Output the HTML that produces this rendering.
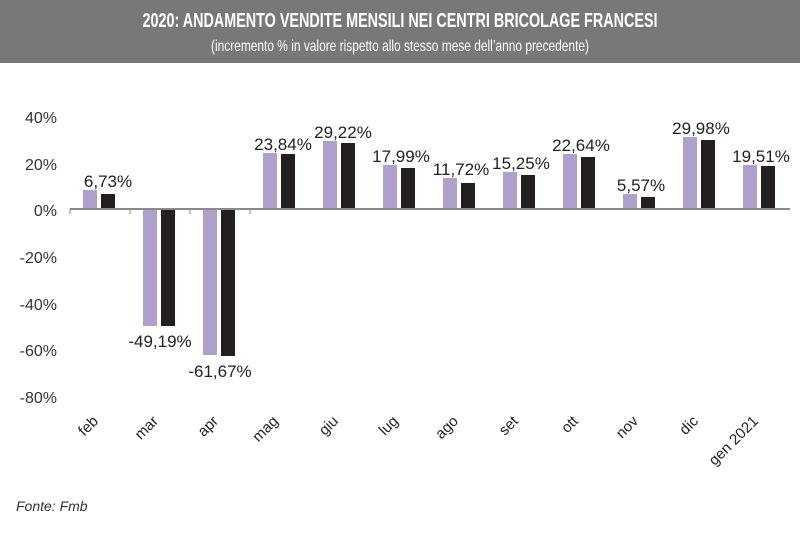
<!DOCTYPE html>
<html><head><meta charset="utf-8"><style>
body{margin:0;background:#fff;width:800px;height:530px;overflow:hidden;font-family:"Liberation Sans",sans-serif}
</style></head><body>
<svg width="800" height="530" xmlns="http://www.w3.org/2000/svg" font-family="Liberation Sans, sans-serif">
<rect x="0" y="0" width="800" height="63" fill="#787878"/>
<text x="400" y="27" text-anchor="middle" fill="#fff" font-size="20" font-weight="bold" textLength="515" lengthAdjust="spacingAndGlyphs">2020: ANDAMENTO VENDITE MENSILI NEI CENTRI BRICOLAGE FRANCESI</text>
<text x="400" y="51" text-anchor="middle" fill="#fff" font-size="16" textLength="378" lengthAdjust="spacingAndGlyphs">(incremento % in valore rispetto allo stesso mese dell’anno precedente)</text>
<g font-size="16" fill="#333" text-anchor="end">
<text x="57" y="123">40%</text><text x="57" y="170">20%</text><text x="57" y="216">0%</text>
<text x="57" y="263">-20%</text><text x="57" y="310">-40%</text><text x="57" y="356">-60%</text><text x="57" y="403">-80%</text>
</g>
<g>
<rect x="83" y="190" width="14" height="19" fill="#b0a0cc"/><rect x="101" y="194" width="14" height="15" fill="#231f20"/>
<rect x="143" y="209" width="14" height="117" fill="#b0a0cc"/><rect x="161" y="209" width="14" height="117" fill="#231f20"/>
<rect x="203" y="209" width="14" height="146" fill="#b0a0cc"/><rect x="221" y="209" width="14" height="147" fill="#231f20"/>
<rect x="263" y="153" width="14" height="56" fill="#b0a0cc"/><rect x="281" y="154" width="14" height="55" fill="#231f20"/>
<rect x="323" y="141" width="14" height="68" fill="#b0a0cc"/><rect x="341" y="143" width="14" height="66" fill="#231f20"/>
<rect x="383" y="165" width="14" height="44" fill="#b0a0cc"/><rect x="401" y="168" width="14" height="41" fill="#231f20"/>
<rect x="443" y="178" width="14" height="31" fill="#b0a0cc"/><rect x="461" y="183" width="14" height="26" fill="#231f20"/>
<rect x="503" y="172" width="14" height="37" fill="#b0a0cc"/><rect x="521" y="175" width="14" height="34" fill="#231f20"/>
<rect x="563" y="154" width="14" height="55" fill="#b0a0cc"/><rect x="581" y="157" width="14" height="52" fill="#231f20"/>
<rect x="623" y="194" width="14" height="15" fill="#b0a0cc"/><rect x="641" y="197" width="14" height="12" fill="#231f20"/>
<rect x="683" y="137" width="14" height="72" fill="#b0a0cc"/><rect x="701" y="140" width="14" height="69" fill="#231f20"/>
<rect x="743" y="165" width="14" height="44" fill="#b0a0cc"/><rect x="761" y="166" width="14" height="43" fill="#231f20"/>
</g>
<line x1="70" y1="209" x2="790" y2="209" stroke="#8a8a8a" stroke-width="2"/>
<g stroke="#8a8a8a" stroke-width="1">
<line x1="70" y1="209" x2="70" y2="214"/><line x1="130" y1="209" x2="130" y2="214"/><line x1="190" y1="209" x2="190" y2="214"/><line x1="250" y1="209" x2="250" y2="214"/>
</g>
<g font-size="17" fill="#222" text-anchor="middle">
<text x="108" y="187">6,73%</text>
<text x="160" y="347">-49,19%</text>
<text x="220" y="377">-61,67%</text>
<text x="283" y="150">23,84%</text>
<text x="343" y="138">29,22%</text>
<text x="401" y="162">17,99%</text>
<text x="461" y="175">11,72%</text>
<text x="521" y="169">15,25%</text>
<text x="581" y="151">22,64%</text>
<text x="641" y="191">5,57%</text>
<text x="701" y="134">29,98%</text>
<text x="761" y="162">19,51%</text>
</g>
<g font-size="15" fill="#222" text-anchor="end">
<text transform="translate(99,422) rotate(-45)">feb</text>
<text transform="translate(159,422) rotate(-45)">mar</text>
<text transform="translate(219,422) rotate(-45)">apr</text>
<text transform="translate(279,422) rotate(-45)">mag</text>
<text transform="translate(339,422) rotate(-45)">giu</text>
<text transform="translate(399,422) rotate(-45)">lug</text>
<text transform="translate(459,422) rotate(-45)">ago</text>
<text transform="translate(519,422) rotate(-45)">set</text>
<text transform="translate(579,422) rotate(-45)">ott</text>
<text transform="translate(639,422) rotate(-45)">nov</text>
<text transform="translate(699,422) rotate(-45)">dic</text>
<text transform="translate(759,422) rotate(-45)">gen 2021</text>
</g>
<text x="16" y="511" font-size="14" font-style="italic" fill="#333">Fonte: Fmb</text>
</svg>
</body></html>
